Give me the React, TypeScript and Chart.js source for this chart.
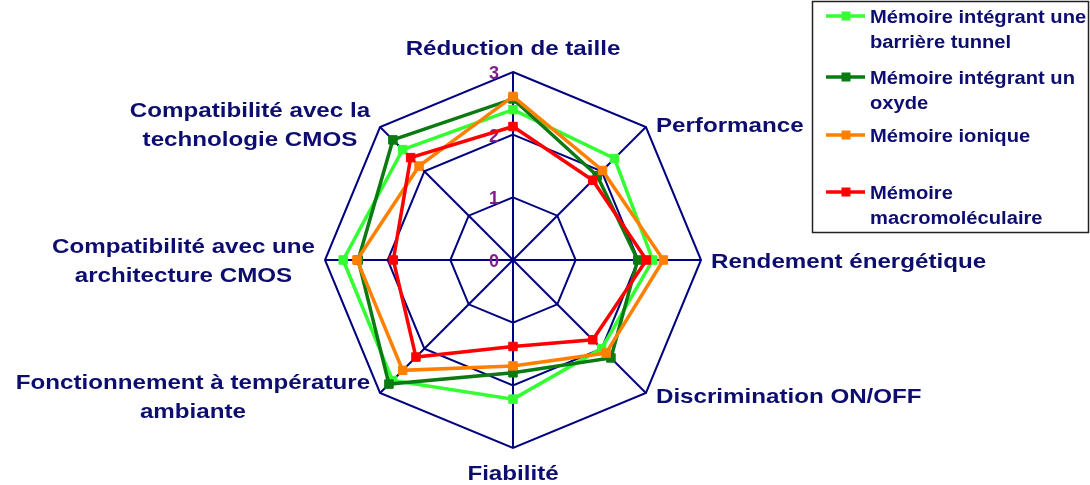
import { useEffect, useRef } from "react";
import { Chart, registerables } from "chart.js";

Chart.register(...registerables);

// ---- Data ----
const categories: string[][] = [
  ["Réduction de taille"],
  ["Performance"],
  ["Rendement énergétique"],
  ["Discrimination ON/OFF"],
  ["Fiabilité"],
  ["Fonctionnement à température", "ambiante"],
  ["Compatibilité avec une", "architecture CMOS"],
  ["Compatibilité avec la", "technologie CMOS"],
];

const seriesNames = [
  "Mémoire intégrant une barrière tunnel",
  "Mémoire intégrant un oxyde",
  "Mémoire ionique",
  "Mémoire macromoléculaire",
];

const legendLines: string[][] = [
  ["Mémoire intégrant une", "barrière tunnel"],
  ["Mémoire intégrant un", "oxyde"],
  ["Mémoire ionique"],
  ["Mémoire", "macromoléculaire"],
];

const barriereTunnel = [2.4, 2.29, 2.23, 2.0, 2.22, 2.72, 2.71, 2.49];
const oxyde = [2.57, 1.9, 1.99, 2.21, 1.8, 2.8, 2.47, 2.71];
const ionique = [2.61, 2.02, 2.4, 2.1, 1.69, 2.49, 2.49, 2.12];
const macromoleculaire = [2.13, 1.8, 2.13, 1.8, 1.38, 2.19, 1.91, 2.31];

const seriesValues = [barriereTunnel, oxyde, ionique, macromoleculaire];
const seriesColors = ["#33ff33", "#0b7a12", "#ff8000", "#ff0000"];
const tickValues = [0, 1, 2, 3];

// ---- Styling ----
const FONT_FAMILY = '"Liberation Sans", Arial, sans-serif';
const NAVY = "#0d0d70";
const GRID = "#000080";
const TICK_COLOR = "#7f1f86";
const LABEL_SX = 1.15;
const LEGEND_SX = 1.12;

const textPlugin = {
  id: "customText",
  beforeDatasetsDraw(chart: any) {
    const scale = chart.scales.r;
    const ctx = chart.ctx as CanvasRenderingContext2D;
    ctx.save();
    ctx.font = `bold 18px ${FONT_FAMILY}`;
    ctx.fillStyle = TICK_COLOR;
    ctx.textAlign = "right";
    ctx.textBaseline = "alphabetic";
    tickValues.forEach((v) => {
      const d = scale.getDistanceFromCenterForValue(v);
      const p = scale.getPointPosition(0, d);
      ctx.fillText(String(v), p.x - 14, p.y + 7);
    });
    ctx.restore();
  },
  afterDraw(chart: any) {
    const scale = chart.scales.r;
    const ctx = chart.ctx as CanvasRenderingContext2D;
    const R = scale.drawingArea;

    // Category labels
    ctx.save();
    ctx.font = `bold 21px ${FONT_FAMILY}`;
    ctx.fillStyle = NAVY;
    ctx.textAlign = "center";
    ctx.textBaseline = "alphabetic";
    const L = 29;
    const C = 15;
    categories.forEach((lines, i) => {
      const angle = scale.getIndexAngle(i) - Math.PI / 2;
      const v = scale.getPointPosition(i, R);
      const c = Math.cos(angle);
      const s = Math.sin(angle);
      const widths = lines.map((l) => ctx.measureText(l).width * LABEL_SX);
      const bw = Math.max(...widths);
      let left: number;
      if (Math.abs(c) < 0.01) left = v.x - bw / 2;
      else if (c > 0) left = v.x + 10;
      else left = v.x - 10 - bw;
      const n = lines.length;
      let b1: number;
      if (Math.abs(c) < 0.01 && s < 0) {
        b1 = v.y - 17.5 - (n - 1) * L;
      } else if (Math.abs(c) < 0.01 && s > 0) {
        b1 = v.y + 17 + C;
      } else {
        const cy = v.y + s * 4;
        b1 = cy - ((n - 1) * L - C) / 2;
      }
      const cx = left + bw / 2;
      lines.forEach((line, k) => {
        ctx.save();
        ctx.translate(cx, b1 + k * L);
        ctx.scale(LABEL_SX, 1);
        ctx.fillText(line, 0, 0);
        ctx.restore();
      });
    });
    ctx.restore();

    // Legend
    ctx.save();
    ctx.strokeStyle = "#222222";
    ctx.lineWidth = 1.5;
    ctx.strokeRect(812.5, 1.5, 276, 231);
    const sampleY = [16, 77, 135, 192];
    const LL = 25;
    ctx.font = `bold 18px ${FONT_FAMILY}`;
    ctx.textAlign = "left";
    ctx.textBaseline = "alphabetic";
    legendLines.forEach((lines, k) => {
      const y = sampleY[k];
      ctx.strokeStyle = seriesColors[k];
      ctx.lineWidth = 3.5;
      ctx.beginPath();
      ctx.moveTo(826, y);
      ctx.lineTo(865, y);
      ctx.stroke();
      ctx.fillStyle = seriesColors[k];
      ctx.fillRect(841.5, y - 4.5, 9, 9);
      ctx.fillStyle = NAVY;
      lines.forEach((line, j) => {
        ctx.save();
        ctx.translate(870, y + 7 + j * LL);
        ctx.scale(LEGEND_SX, 1);
        ctx.fillText(line, 0, 0);
        ctx.restore();
      });
    });
    ctx.restore();
  },
};

export default function App() {
  const canvasRef = useRef<HTMLCanvasElement | null>(null);

  useEffect(() => {
    const canvas = canvasRef.current;
    if (!canvas) return;
    const chart = new Chart(canvas, {
      type: "radar",
      data: {
        labels: categories.map((c) => c.join(" ")),
        datasets: seriesNames.map((name, k) => ({
          label: name,
          data: seriesValues[k],
          borderColor: seriesColors[k],
          backgroundColor: seriesColors[k],
          pointBackgroundColor: seriesColors[k],
          pointBorderColor: seriesColors[k],
          pointStyle: "rect",
          pointRadius: 6,
          pointBorderWidth: 1,
          borderWidth: 3.5,
          fill: false,
          order: 3 - k,
          tension: 0,
        })),
      },
      options: {
        responsive: false,
        animation: false,
        devicePixelRatio: 1,
        layout: { padding: { left: 325, top: 72, right: 389, bottom: 37 } },
        plugins: { legend: { display: false }, tooltip: { enabled: false } },
        scales: {
          r: {
            min: 0,
            max: 3,
            ticks: { display: false, stepSize: 1 },
            pointLabels: { display: false },
            grid: { color: GRID, lineWidth: 2 },
            angleLines: { color: GRID, lineWidth: 2 },
          },
        },
      } as any,
      plugins: [textPlugin as any],
    });
    return () => chart.destroy();
  }, []);

  return (
    <div style={{ position: "absolute", left: 0, top: 0, width: 1090, height: 485, background: "#ffffff" }}>
      <canvas ref={canvasRef} width={1090} height={485} style={{ display: "block" }} />
    </div>
  );
}
